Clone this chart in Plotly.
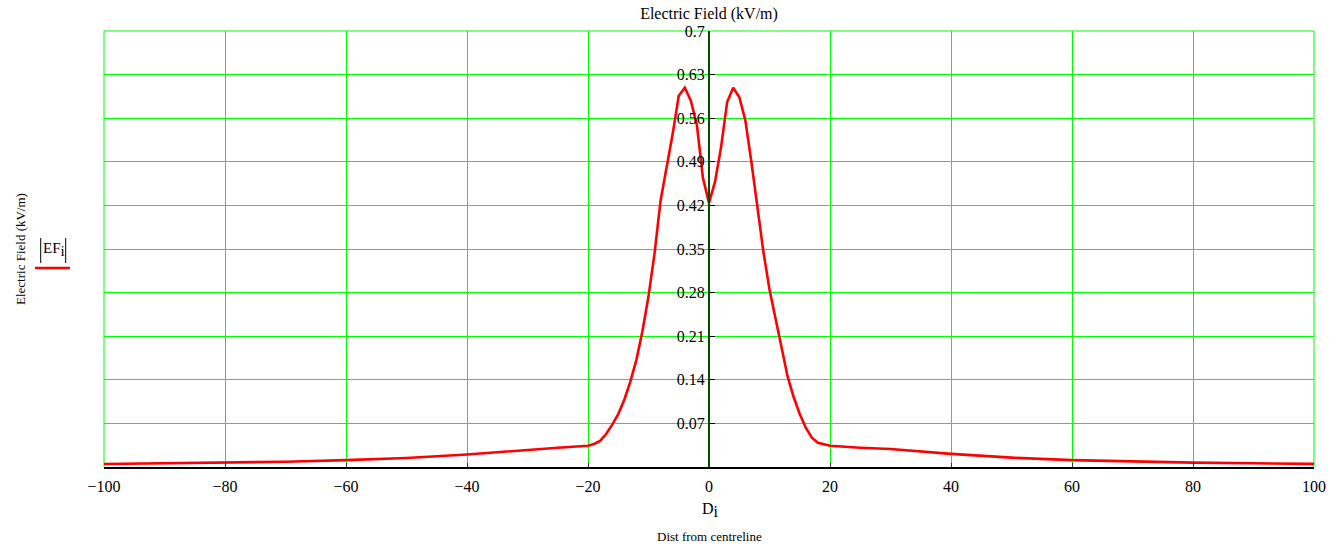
import plotly.graph_objects as go

# ---- data ----
dist = [-100, -90, -80, -70, -60, -50, -40, -35, -30, -25,
        -20, -19, -18, -17, -16, -15, -14, -13, -12, -11, -10,
        -9, -8, -7, -6, -5, -4, -3, -2, -1, 0,
        1, 2, 3, 4, 5, 6, 7, 8, 9, 10,
        11, 12, 13, 14, 15, 16, 17, 18, 19, 20,
        25, 30, 40, 50, 60, 70, 80, 90, 100]
ef = [0.0048, 0.006, 0.007, 0.0085, 0.011, 0.0145, 0.020, 0.024, 0.027, 0.031,
      0.034, 0.037, 0.042, 0.053, 0.068, 0.085, 0.108, 0.137, 0.172, 0.218, 0.274,
      0.343, 0.428, 0.480, 0.535, 0.596, 0.609, 0.588, 0.549, 0.464, 0.424,
      0.458, 0.514, 0.586, 0.609, 0.594, 0.557, 0.490, 0.415, 0.345, 0.285,
      0.238, 0.190, 0.145, 0.112, 0.085, 0.063, 0.047, 0.039, 0.036, 0.034,
      0.031, 0.029, 0.021, 0.015, 0.011, 0.0085, 0.007, 0.006, 0.005]

x_ticks = [-100, -80, -60, -40, -20, 0, 20, 40, 60, 80, 100]
y_ticks = [0.07, 0.14, 0.21, 0.28, 0.35, 0.42, 0.49, 0.56, 0.63, 0.70]
y_tick_text = ["0.07", "0.14", "0.21", "0.28", "0.35", "0.42", "0.49", "0.56", "0.63", "0.7"]

FONT = "Liberation Serif"
GREEN = "#00ff00"

fig = go.Figure()
fig.add_trace(go.Scatter(x=dist, y=ef, mode="lines",
                         line=dict(color="#ff0000", width=2.6),
                         showlegend=False, hoverinfo="x+y"))

fig.update_layout(
    width=1342, height=547,
    margin=dict(l=104, r=28, t=31, b=80),
    paper_bgcolor="white", plot_bgcolor="white",
    font=dict(family=FONT, size=16, color="black"),
    title=dict(text="Electric Field (kV/m)", x=709 / 1342, xref="container",
               xanchor="center", y=1 - 13 / 547, yref="container", yanchor="middle",
               font=dict(family=FONT, size=16, color="black")),
    xaxis=dict(range=[-100, 100], tickvals=x_ticks, showgrid=True,
               gridcolor=GREEN, gridwidth=1, zeroline=False,
               showline=True, linecolor="black", linewidth=1.5,
               ticks="inside", ticklen=4, tickcolor="#333333",
               ticklabelstandoff=4,
               tickfont=dict(family=FONT, size=16, color="black")),
    yaxis=dict(range=[0, 0.7], tickvals=y_ticks, ticktext=y_tick_text,
               showgrid=True, gridcolor=GREEN, gridwidth=1, zeroline=False,
               anchor="free", position=0.5,
               showline=True, linecolor="#004d00", linewidth=2,
               ticks="inside", ticklen=5, tickcolor="black",
               tickfont=dict(family=FONT, size=16, color="black")),
)

# border lines (green) on top, left and right
for (x0, y0, x1, y1) in [(0, 1, 1, 1), (0, 0, 0, 1), (1, 0, 1, 1)]:
    fig.add_shape(type="line", xref="paper", yref="paper", x0=x0, y0=y0, x1=x1, y1=y1,
                  line=dict(color=GREEN, width=1), layer="below")

def px_x(p):
    return (p - 104) / 1210

def px_y(p):
    return (467 - p) / 436

# legend-like label |EF_i| with red line
fig.add_annotation(text="EF<sub><span style='font-size:15px'>i</span></sub>",
                   xref="paper", yref="paper",
                   x=px_x(53.5), y=px_y(250), showarrow=False,
                   xanchor="center", yanchor="middle",
                   font=dict(family=FONT, size=15, color="black"))
for bx in (40.7, 65.7):
    fig.add_shape(type="line", xref="paper", yref="paper",
                  x0=px_x(bx), x1=px_x(bx), y0=px_y(238), y1=px_y(263),
                  line=dict(color="black", width=1))
fig.add_shape(type="line", xref="paper", yref="paper",
              x0=px_x(35), x1=px_x(70), y0=px_y(268), y1=px_y(268),
              line=dict(color="#ff0000", width=2.6))

# rotated y title at far left
fig.add_annotation(text="Electric Field (kV/m)", xref="paper", yref="paper",
                   x=px_x(20), y=px_y(249), showarrow=False, textangle=-90,
                   xanchor="center", yanchor="middle",
                   font=dict(family=FONT, size=13, color="black"))

# x axis labels below
fig.add_annotation(text="D<sub><span style='font-size:16px'>i</span></sub>",
                   xref="paper", yref="paper",
                   x=px_x(711), y=px_y(510), showarrow=False,
                   xanchor="center", yanchor="middle",
                   font=dict(family=FONT, size=16, color="black"))
fig.add_annotation(text="Dist from centreline", xref="paper", yref="paper",
                   x=px_x(709), y=px_y(536), showarrow=False,
                   xanchor="center", yanchor="middle",
                   font=dict(family=FONT, size=13, color="black"))

fig.write_html("out.html", config={"displayModeBar": False},
               post_script="document.body.style.margin='0';")
